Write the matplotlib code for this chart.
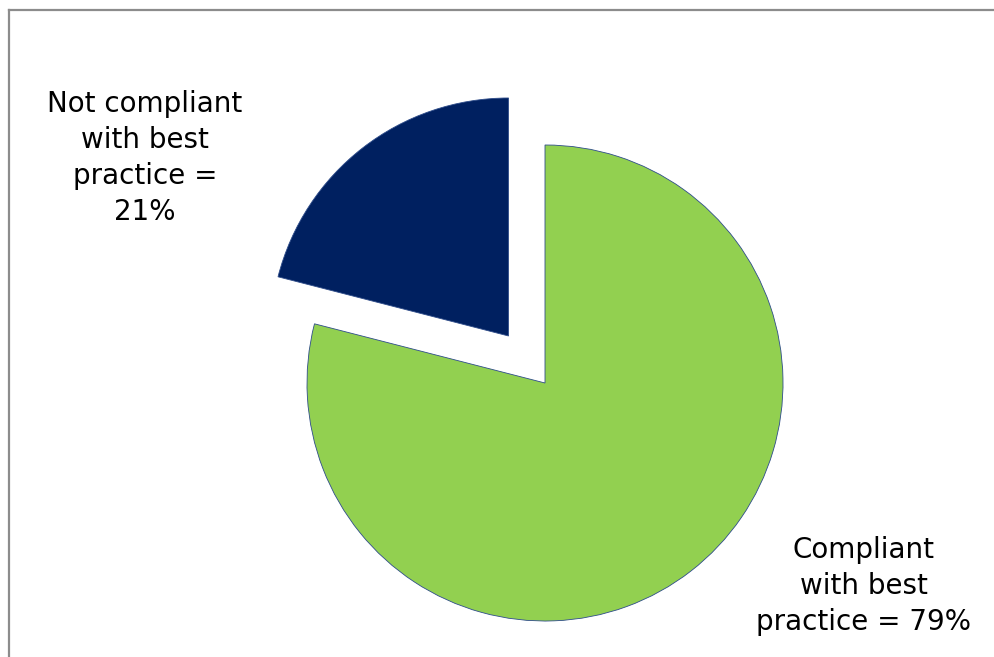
import matplotlib
matplotlib.use("Agg")
import matplotlib.pyplot as plt
from matplotlib.lines import Line2D

# Share of organisations by compliance status
categories = ["Compliant\nwith best\npractice = 79%", "Not compliant\nwith best\npractice =\n21%"]
shares = [79, 21]
colors = ["#92D050", "#002060"]
explode_frac = [0.0, 0.25]

W, H = 994, 657
RADIUS = 238
fig = plt.figure(figsize=(W / 100, H / 100), dpi=100)
ax = fig.add_axes([0, 0, 1, 1])

# pie's explode offset is in data units, so scale by the radius
wedges, _ = ax.pie(
    shares,
    colors=colors,
    explode=[f * RADIUS for f in explode_frac],
    startangle=90,
    counterclock=False,
    center=(545, H - 383),
    radius=RADIUS,
    frame=True,
    wedgeprops=dict(edgecolor="#2E4C8A", linewidth=0.6),
)
ax.set_xlim(0, W)
ax.set_ylim(0, H)
ax.set_aspect("equal")
ax.axis("off")

# Data labels
label_style = dict(fontsize=20, ha="center", va="center", color="black",
                   linespacing=1.35, family="DejaVu Sans")
ax.text(145, H - 158, categories[1], **label_style)
ax.text(864, H - 586, categories[0], **label_style)

# Chart-area border (top and left edges)
fig.add_artist(Line2D([8.5 / W, 8.5 / W], [0, 1 - 9.5 / H], transform=fig.transFigure,
                      color="#8C8C8C", linewidth=1.6))
fig.add_artist(Line2D([8.5 / W, 1], [1 - 9.5 / H, 1 - 9.5 / H], transform=fig.transFigure,
                      color="#8C8C8C", linewidth=1.6))

fig.savefig("out.png", dpi=100)
